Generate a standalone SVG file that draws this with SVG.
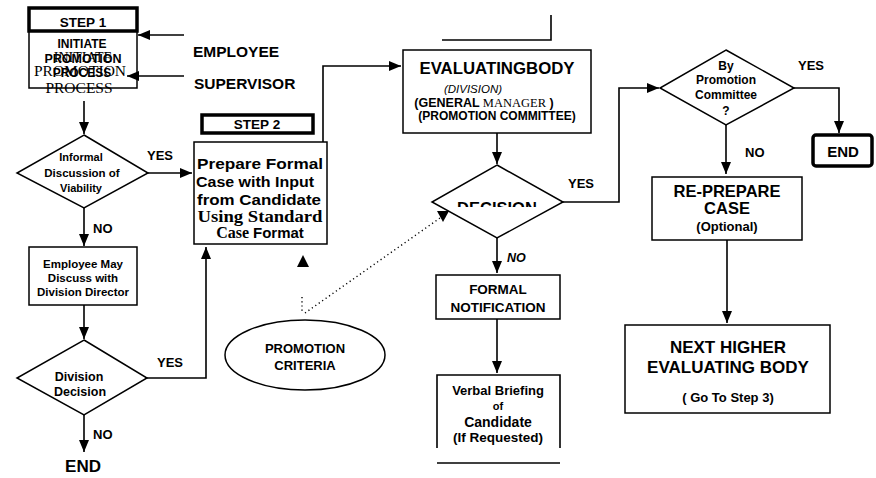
<svg xmlns="http://www.w3.org/2000/svg" width="876" height="478" viewBox="0 0 876 478">
<defs>
<style>
.n{fill:#fff;stroke:#000;stroke-width:1.5}
.k{fill:#fff;stroke:#000;stroke-width:3.5}
.c{fill:none;stroke:#000;stroke-width:1.6}
.d{fill:none;stroke:#000;stroke-width:1.4;stroke-dasharray:1.2 3}
.t{font-family:"Liberation Sans",Arial,sans-serif;font-weight:bold;text-anchor:middle;fill:#000}
.s{font-family:"Liberation Serif","Times New Roman",serif;text-anchor:middle;fill:#000}
.l{font-family:"Liberation Sans",Arial,sans-serif;font-weight:bold;fill:#000}
</style>
<marker id="a" viewBox="0 0 12 10" markerUnits="userSpaceOnUse" markerWidth="12" markerHeight="10" refX="12" refY="5" orient="auto">
<path d="M0,0 L12,5 L0,10 z" fill="#000"/>
</marker>
<clipPath id="dc"><rect x="420" y="150" width="160" height="57"/></clipPath>
</defs>

<g id="step1">
<rect class="n" x="29" y="31" width="108" height="57"/>
<rect class="k" x="29" y="8" width="108" height="23"/>
<text class="t" x="83" y="27" font-size="13.5">STEP  1</text>
<text class="s" x="83" y="62" font-size="14">INITIATE</text>
<text class="s" x="80" y="76" font-size="15.5">PROMOTION</text>
<text class="s" x="79" y="93" font-size="15.5">PROCESS</text>
<text class="t" x="82" y="48" font-size="12">INITIATE</text>
<text class="t" x="83" y="63" font-size="12.5">PROMOTION</text>
<text class="t" x="82" y="77" font-size="12">PROCESS</text>
</g>

<g id="employee"><text class="l" x="193" y="57" font-size="15.5">EMPLOYEE</text></g>
<g id="supervisor"><text class="l" x="194" y="89" font-size="15.5">SUPERVISOR</text></g>

<g id="informal">
<polygon class="n" points="84,135 148,173 84,208 17,173"/>
<text class="t" x="81" y="161" font-size="11">Informal</text>
<text class="t" x="82" y="177" font-size="11.5">Discussion of</text>
<text class="t" x="81" y="192" font-size="11">Viability</text>
<text class="l" x="147" y="160" font-size="13">YES</text>
<text class="l" x="93" y="233" font-size="13">NO</text>
</g>

<g id="employee-may">
<rect class="n" x="29" y="247" width="108" height="58"/>
<text class="t" x="83" y="268" font-size="11.5">Employee  May</text>
<text class="t" x="83" y="282" font-size="11.5">Discuss with</text>
<text class="t" x="83" y="296" font-size="11.5">Division Director</text>
</g>

<g id="division-decision">
<polygon class="n" points="84,340 147,378 84,415 17,378"/>
<text class="t" x="79" y="381" font-size="12.5">Division</text>
<text class="t" x="80" y="396" font-size="12.5">Decision</text>
<text class="l" x="157" y="367" font-size="13">YES</text>
<text class="l" x="93" y="439" font-size="13">NO</text>
<text class="t" x="83" y="472" font-size="17">END</text>
</g>

<g id="step2">
<rect class="k" x="202" y="115" width="111" height="18"/>
<text class="t" x="257" y="129" font-size="13.5">STEP 2</text>
<rect class="n" x="194" y="142" width="133" height="102"/>
<text class="t" x="260" y="169" font-size="14" textLength="126" lengthAdjust="spacingAndGlyphs">Prepare Formal</text>
<text class="t" x="255" y="187" font-size="14" textLength="118" lengthAdjust="spacingAndGlyphs">Case with Input</text>
<text class="t" x="259" y="205" font-size="14" textLength="124" lengthAdjust="spacingAndGlyphs">from Candidate</text>
<text class="s" x="260" y="222" font-size="16" font-weight="bold" textLength="125" lengthAdjust="spacingAndGlyphs">Using Standard</text>
<text class="s" x="260" y="238" font-size="16"><tspan font-weight="bold">Case</tspan> <tspan font-family="Liberation Sans, Arial, sans-serif" font-weight="bold" font-size="15">Format</tspan></text>
</g>

<g id="criteria">
<ellipse class="n" cx="305" cy="355" rx="80" ry="35"/>
<text class="t" x="305" y="353" font-size="13">PROMOTION</text>
<text class="t" x="305" y="370" font-size="13">CRITERIA</text>
</g>

<g id="evaluating">
<rect class="n" x="403" y="50" width="188" height="83"/>
<text class="t" x="497" y="74" font-size="16.8">EVALUATINGBODY</text>
<text class="t" x="473" y="93" font-size="11.5" style="font-style:italic;font-weight:normal">(DIVISION)</text>
<text class="t" x="484" y="107" font-size="12.5"><tspan>(GENERAL </tspan><tspan style="font-family:'Liberation Serif',serif;font-weight:normal;font-size:12.5px">MANAGER</tspan><tspan> )</tspan></text>
<text class="t" x="497" y="120" font-size="12">(PROMOTION COMMITTEE)</text>
</g>

<g id="decision">
<polygon class="n" points="497,165 563,202 497,238 432,202"/>
<text class="t" x="497" y="214" font-size="16.5" clip-path="url(#dc)">DECISION</text>
<text class="l" x="568" y="188" font-size="13">YES</text>
<text class="l" x="507" y="262" font-size="12.5" font-style="italic">NO</text>
</g>

<g id="formal">
<rect class="n" x="436" y="275" width="124" height="44"/>
<text class="t" x="498" y="294" font-size="13.5">FORMAL</text>
<text class="t" x="498" y="312" font-size="13.5">NOTIFICATION</text>
</g>

<g id="verbal">
<path class="c" d="M437,448 V375 H560 V448"/>
<path class="c" d="M437,463 H560"/>
<text class="t" x="498" y="395" font-size="13">Verbal Briefing</text>
<text class="t" x="498" y="410" font-size="11">of</text>
<text class="t" x="498" y="427" font-size="14">Candidate</text>
<text class="t" x="498" y="442" font-size="13.5">(If Requested)</text>
</g>

<g id="by-committee">
<polygon class="n" points="726,50 794,88 726,125 660,88"/>
<text class="t" x="726" y="70" font-size="12">By</text>
<text class="t" x="726" y="84" font-size="12">Promotion</text>
<text class="t" x="726" y="99" font-size="12">Committee</text>
<text class="t" x="726" y="115" font-size="12">?</text>
<text class="l" x="798" y="70" font-size="13">YES</text>
<text class="l" x="745" y="157" font-size="13">NO</text>
</g>

<g id="end2">
<rect class="k" x="813" y="135" width="59" height="31" rx="3"/>
<text class="t" x="843" y="157" font-size="15">END</text>
</g>

<g id="reprepare">
<rect class="n" x="652" y="177" width="150" height="63"/>
<text class="t" x="727" y="197" font-size="16.5">RE-PREPARE</text>
<text class="t" x="727" y="214" font-size="16.5">CASE</text>
<text class="t" x="727" y="231" font-size="13">(Optional)</text>
</g>

<g id="next-higher">
<rect class="n" x="625" y="325" width="205" height="88"/>
<text class="t" x="728" y="353" font-size="17">NEXT HIGHER</text>
<text class="t" x="728" y="373" font-size="17">EVALUATING BODY</text>
<text class="t" x="728" y="402" font-size="13">( Go To Step 3)</text>
</g>

<g id="connectors">
<path class="c" d="M184,35 H138" marker-end="url(#a)"/>
<path class="c" d="M184,76 H127" marker-end="url(#a)"/>
<path class="c" d="M84,101 V134" marker-end="url(#a)"/>
<path class="c" d="M148,173 H192" marker-end="url(#a)"/>
<path class="c" d="M84,208 V246" marker-end="url(#a)"/>
<path class="c" d="M84,305 V339" marker-end="url(#a)"/>
<path class="c" d="M147,378 H206 V247" marker-end="url(#a)"/>
<path class="c" d="M84,415 V452" marker-end="url(#a)"/>
<path class="c" d="M323,142 V66 H401" marker-end="url(#a)"/>
<path class="c" d="M497,133 V164" marker-end="url(#a)"/>
<path class="c" d="M563,202 H619 V88 H659" marker-end="url(#a)"/>
<path class="c" d="M497,238 V273" marker-end="url(#a)"/>
<path class="c" d="M497,319 V373" marker-end="url(#a)"/>
<path class="c" d="M794,88 H839 V133" marker-end="url(#a)"/>
<path class="c" d="M726,125 V174" marker-end="url(#a)"/>
<path class="c" d="M727,240 V323" marker-end="url(#a)"/>
<path class="d" d="M305,313 L440,218"/>
<path d="M437,211 L449,211 L443,222 z" fill="#000"/>
<path class="d" d="M302,297 V313"/>
<path d="M297,267 L309,267 L303,255 z" fill="#000"/>
<path class="c" d="M442,40 H551 V15"/>
</g>
</svg>
